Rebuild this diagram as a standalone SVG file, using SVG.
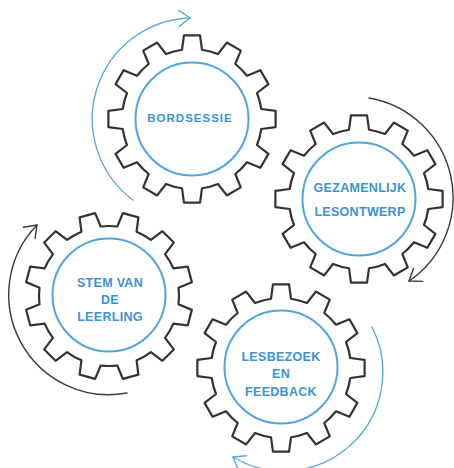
<svg xmlns="http://www.w3.org/2000/svg" xmlns:xlink="http://www.w3.org/1999/xlink" width="454" height="468" viewBox="0 0 454 468">
<style>
.gear{fill:#ffffff;stroke:#333333;stroke-width:2.2;stroke-linejoin:round}
.ring{fill:none;stroke:#4ea6dd;stroke-width:2}
.lbl{font-family:"Liberation Sans",Arial,sans-serif;font-weight:bold;font-size:12.5px;fill:#3a93d5;text-anchor:middle;letter-spacing:0.3px}
.arc{fill:none;stroke-width:1.4;stroke-linecap:round}
.blue{stroke:#5aaad8}
.dark{stroke:#3a3a3a}
</style>
<defs>
<path id="gearShape" class="gear" d="M -9.98 -69.28 L -8.05 -83.61 L 8.05 -83.61 L 9.98 -69.28 A 70 70 0 0 1 26.00 -64.99 L 34.83 -76.44 L 48.78 -68.39 L 43.29 -55.01 A 70 70 0 0 1 55.01 -43.29 L 68.39 -48.78 L 76.44 -34.83 L 64.99 -26.00 A 70 70 0 0 1 69.28 -9.98 L 83.61 -8.05 L 83.61 8.05 L 69.28 9.98 A 70 70 0 0 1 64.99 26.00 L 76.44 34.83 L 68.39 48.78 L 55.01 43.29 A 70 70 0 0 1 43.29 55.01 L 48.78 68.39 L 34.83 76.44 L 26.00 64.99 A 70 70 0 0 1 9.98 69.28 L 8.05 83.61 L -8.05 83.61 L -9.98 69.28 A 70 70 0 0 1 -26.00 64.99 L -34.83 76.44 L -48.78 68.39 L -43.29 55.01 A 70 70 0 0 1 -55.01 43.29 L -68.39 48.78 L -76.44 34.83 L -64.99 26.00 A 70 70 0 0 1 -69.28 9.98 L -83.61 8.05 L -83.61 -8.05 L -69.28 -9.98 A 70 70 0 0 1 -64.99 -26.00 L -76.44 -34.83 L -68.39 -48.78 L -55.01 -43.29 A 70 70 0 0 1 -43.29 -55.01 L -48.78 -68.39 L -34.83 -76.44 L -26.00 -64.99 A 70 70 0 0 1 -9.98 -69.28 Z"/>
<marker id="headBlue" markerUnits="userSpaceOnUse" markerWidth="30" markerHeight="30" refX="0" refY="0" viewBox="-15 -15 30 30" orient="auto" overflow="visible">
<path d="M -11 -8 L 0 0 L -11 8" fill="none" stroke="#5aaad8" stroke-width="1.4" stroke-linecap="round" stroke-linejoin="round"/>
</marker>
<marker id="headDark" markerUnits="userSpaceOnUse" markerWidth="30" markerHeight="30" refX="0" refY="0" viewBox="-15 -15 30 30" orient="auto" overflow="visible">
<path d="M -11 -8 L 0 0 L -11 8" fill="none" stroke="#3a3a3a" stroke-width="1.4" stroke-linecap="round" stroke-linejoin="round"/>
</marker>
</defs>
<rect width="454" height="468" fill="#ffffff"/>
<g id="connectors">
<path class="arc blue" d="M 133 200 A 101 101 0 0 1 190 18" marker-end="url(#headBlue)"/>
<path class="arc dark" d="M 369 98 A 101 101 0 0 1 409 281" marker-end="url(#headDark)"/>
<path class="arc dark" d="M 127 393 A 100 100 0 0 1 37 225" marker-end="url(#headDark)"/>
<path class="arc blue" d="M 372 327 A 99 99 0 0 1 233 457" marker-end="url(#headBlue)"/>
</g>
<g id="bordsessie">
<use xlink:href="#gearShape" transform="translate(192 119)"/>
<circle class="ring" cx="192" cy="119" r="56.5"/>
<text class="lbl" x="190" y="122" style="font-size:11.5px;letter-spacing:1px">BORDSESSIE</text>
</g>
<g id="gezamenlijk-lesontwerp">
<use xlink:href="#gearShape" transform="translate(359 199)"/>
<circle class="ring" cx="359" cy="199" r="56.5"/>
<text class="lbl" x="360" y="192">GEZAMENLIJK</text>
<text class="lbl" x="360" y="216">LESONTWERP</text>
</g>
<g id="stem-van-de-leerling">
<use xlink:href="#gearShape" transform="translate(109 296) rotate(15)"/>
<circle class="ring" cx="109" cy="295" r="56.5"/>
<text class="lbl" x="110" y="287">STEM VAN</text>
<text class="lbl" x="110" y="303.5">DE</text>
<text class="lbl" x="110" y="320.5">LEERLING</text>
</g>
<g id="lesbezoek-en-feedback">
<use xlink:href="#gearShape" transform="translate(281 368)"/>
<circle class="ring" cx="281" cy="367" r="56.5"/>
<text class="lbl" x="281" y="361">LESBEZOEK</text>
<text class="lbl" x="281" y="378">EN</text>
<text class="lbl" x="281" y="396">FEEDBACK</text>
</g>
</svg>
